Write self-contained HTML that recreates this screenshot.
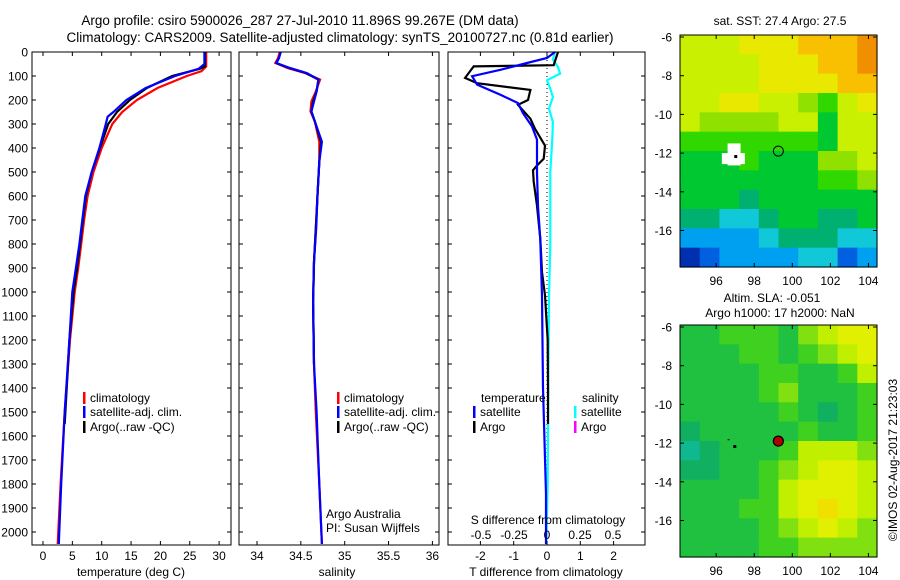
<!DOCTYPE html>
<html><head><meta charset="utf-8">
<style>
body{margin:0;background:#fff;}
svg{display:block;font-family:"Liberation Sans",sans-serif;}
text{fill:#000;}
</style></head>
<body>
<svg id="fig" width="900" height="580" viewBox="0 0 900 580" xmlns="http://www.w3.org/2000/svg">
<text x="300" y="25" font-size="13.5" text-anchor="middle">Argo profile: csiro 5900026_287 27-Jul-2010 11.896S 99.267E (DM data)</text>
<text x="340" y="42" font-size="13.5" text-anchor="middle">Climatology: CARS2009. Satellite-adjusted climatology: synTS_20100727.nc (0.81d earlier)</text>
<g id="p1"></g>
<g id="p2"></g>
<g id="p3"></g>
<g id="m1"></g>
<g id="m2"></g>
<text x="780" y="25" font-size="12" text-anchor="middle">sat. SST: 27.4 Argo: 27.5</text>
<text x="772" y="302" font-size="12" text-anchor="middle">Altim. SLA: -0.051</text>
<text x="780" y="317" font-size="12" text-anchor="middle">Argo h1000: 17 h2000: NaN</text>
<text x="0" y="0" font-size="12" text-anchor="middle" transform="translate(897,460) rotate(-90)">©IMOS 02-Aug-2017 21:23:03</text>
</svg>
<script>
// ---------- data ----------
const depthTicks = [0,100,200,300,400,500,600,700,800,900,1000,1100,1200,1300,1400,1500,1600,1700,1800,1900,2000];
const tempTicks = [0,5,10,15,20,25,30];
const salTicks = [34,34.5,35,35.5,36];
const tdiffTicks = [-2,-1,0,1,2];
const sdiffTicks = [-0.5,-0.25,0,0.25,0.5];
const sdiffTickLabels = ["-0.5","-0.25","0","0.25","0.5"];

const climDepth = [0,60,80,100,150,200,250,300,400,500,600,700,800,900,1000,1200,1500,1800,2050];
const climTemp  = [27.8,27.8,27.0,24.5,19.5,16.0,13.5,11.8,10.0,8.6,7.6,7.0,6.5,6.0,5.4,4.6,3.7,3.0,2.5];
const satDepth  = [0,50,70,100,150,200,250,270,300,400,500,600,700,800,900,1000,1200,1500,1800,2050];
const satTemp   = [27.5,27.5,26.5,22.5,17.5,14.2,12.0,11.0,10.7,9.6,8.3,7.2,6.7,6.2,5.6,5.0,4.5,3.7,3.1,2.7];
const argoDepth = [0,60,70,100,150,200,250,300,400,500,600,700,800,900,1000,1200,1550];
const argoTemp  = [27.6,27.6,26.7,22.0,17.7,14.8,12.6,11.1,9.7,8.3,7.3,6.8,6.3,5.8,5.2,4.5,3.7];

const salDepth  = [0,26,46,67,88,115,164,206,248,290,374,457,596,735,874,1040,1300,1500,1800,2050];
const climSal   = [34.26,34.24,34.21,34.35,34.55,34.72,34.67,34.62,34.61,34.66,34.71,34.71,34.69,34.67,34.65,34.64,34.65,34.67,34.71,34.74];
const satSal    = [34.27,34.25,34.22,34.38,34.57,34.70,34.68,34.65,34.62,34.66,34.74,34.71,34.69,34.675,34.65,34.64,34.65,34.68,34.71,34.74];
const argoSal   = [34.27,34.25,34.22,34.37,34.56,34.70,34.68,34.64,34.62,34.66,34.73,34.71,34.69,34.67,34.65,34.64,34.65];

const argoTdDepth = [0,55,60,108,130,158,200,220,278,320,390,445,473,493,540,640,778,917,1014,1200,1400,1550];
const argoTdiff   = [0.33,0.2,-2.2,-2.46,-2.1,-0.5,-0.57,-0.87,-0.5,-0.36,-0.06,-0.1,-0.3,-0.42,-0.4,-0.3,-0.2,-0.15,-0.06,0.02,0.03,0.03];
const satTdDepth  = [0,25,46,74,101,136,178,213,255,310,365,504,643,782,1017,1400,1840,2050];
const satTdiff    = [0.24,0,-0.6,-1.4,-2.25,-2.1,-1.4,-0.87,-0.72,-0.45,-0.3,-0.3,-0.27,-0.2,-0.15,-0.12,-0.03,-0.03];
const satSdDepth  = [0,32,60,90,118,153,188,236,292,361,500,800,1017,1400,1800,2050];
const satSdiff    = [0.06,0.045,0.08,0.1,0,0.025,0.045,0.015,0.045,0.04,0.025,0.025,0.015,0.01,0.005,-0.005];

const mapLonTicks = [96,98,100,102,104];
const mapLatTicks = [-6,-8,-10,-12,-14,-16];
const sstGrid = [
 [8,8,8,9,9,9,10,10,10,11],
 [8,8,8,8,9,9,9,10,10,11],
 [8,8,8,8,9,9,9,9,10,10],
 [8,8,9,9,8,8,7,6,8,9],
 [8,7,7,7,7,8,8,5,8,8],
 [6,6,6,6,6,6,6,5,8,8],
 [5,5,5,6,5,5,5,7,7,8],
 [5,5,5,5,5,5,5,6,6,7],
 [5,5,5,4,5,5,5,5,5,5],
 [4,4,3,3,4,5,5,4,4,5],
 [2,2,2,2,3,4,4,4,3,3],
 [0,1,2,2,2,2,3,3,1,2]];
const slaGrid = [
 [5,5,6,6,6,5,7,8,9,9],
 [5,5,5,6,6,5,6,7,8,9],
 [5,5,5,5,6,6,5,5,6,8],
 [5,5,5,5,6,7,5,5,5,6],
 [5,5,5,5,5,6,5,4,5,6],
 [4,5,5,5,5,5,6,5,5,6],
 [3,4,5,5,5,6,8,8,8,7],
 [4,4,5,5,6,7,8,9,9,8],
 [5,5,5,5,6,8,9,9,9,8],
 [5,5,5,6,6,8,9,10,9,8],
 [5,5,5,5,6,7,8,9,8,7],
 [5,5,5,5,6,6,7,7,7,7]];
const argoLon = 99.267, argoLat = -11.896;

// ---------- helpers ----------
const NS = "http://www.w3.org/2000/svg";
function mk(parent, tag, attrs, txt){
  const e = document.createElementNS(NS, tag);
  for (const k in attrs) e.setAttribute(k, attrs[k]);
  if (txt !== undefined) e.textContent = txt;
  parent.appendChild(e);
  return e;
}
const top0 = 52, bot0 = 545;
const FS = 12;
const yD = d => top0 + d * 0.24;
const xT = t => 43 + t * 5.87;
const xS = s => 257 + (s - 34) * 87.7;
const xTd = t => 547 + t * 33.3;
const xSd = s => 547 + s * 132;

function frame(g, x0, x1, name){
  const r = mk(g, 'rect', {x:x0, y:top0, width:x1-x0, height:bot0-top0, fill:'none', stroke:'#000', 'stroke-width':1});
  
  
}
function depthTickMarks(g, x0, x1, labels){
  depthTicks.forEach(d => {
    const y = yD(d);
    mk(g,'line',{x1:x0,y1:y,x2:x0+4,y2:y,stroke:'#000'});
    mk(g,'line',{x1:x1,y1:y,x2:x1-4,y2:y,stroke:'#000'});
    if (labels){
      const t = mk(g,'text',{x:x0-4,y:y+4.5,'font-size':FS,'text-anchor':'end'}, String(d));
      
      
    }
  });
}
function xTicks(g, vals, fx, labels, y){
  vals.forEach((v,i) => {
    const x = fx(v);
    mk(g,'line',{x1:x,y1:bot0,x2:x,y2:bot0-4,stroke:'#000'});
    mk(g,'line',{x1:x,y1:top0,x2:x,y2:top0+4,stroke:'#000'});
    const t = mk(g,'text',{x:x,y:y,'font-size':FS,'text-anchor':'middle'}, labels ? labels[i] : String(v));
    
    
  });
}
function line(g, xs, ds, fx, color, name){
  const pts = xs.map((v,i) => fx(v).toFixed(1) + ',' + yD(ds[i]).toFixed(1)).join(' ');
  const p = mk(g,'polyline',{points:pts, fill:'none', stroke:color, 'stroke-width':2.2, 'stroke-linejoin':'miter'});
  
  
}
function legend(g, x, y, color, label, name){
  mk(g,'rect',{x:x, y:y-10, width:2.5, height:12, fill:color});
  const t = mk(g,'text',{x:x+7, y:y, 'font-size':FS}, label);
  
  
}

// ---------- panel 1 ----------
const p1 = document.getElementById('p1');
line(p1, climTemp, climDepth, xT, '#f00', 'climatology-temp-line');
line(p1, argoTemp, argoDepth, xT, '#000', 'argo-temp-line');
line(p1, satTemp, satDepth, xT, '#00f', 'satellite-temp-line');
frame(p1, 32, 231, 'temperature-axes');
depthTickMarks(p1, 32, 231, true);
xTicks(p1, tempTicks, xT, null, 560);
mk(p1,'text',{x:131,y:576,'font-size':FS,'text-anchor':'middle'},'temperature (deg C)');
legend(p1, 83, 402, '#f00', 'climatology', 'legend-climatology');
legend(p1, 83, 416, '#00f', 'satellite-adj. clim.', 'legend-satellite');
legend(p1, 83, 431, '#000', 'Argo(..raw -QC)', 'legend-argo');

// ---------- panel 2 ----------
const p2 = document.getElementById('p2');
line(p2, climSal, salDepth, xS, '#f00', 'climatology-salinity-line');
line(p2, argoSal, salDepth.slice(0, argoSal.length), xS, '#000', 'argo-salinity-line');
line(p2, satSal, salDepth, xS, '#00f', 'satellite-salinity-line');
frame(p2, 239, 439, 'salinity-axes');
depthTickMarks(p2, 239, 439, false);
xTicks(p2, salTicks, xS, null, 560);
mk(p2,'text',{x:337,y:576,'font-size':FS,'text-anchor':'middle'},'salinity');
legend(p2, 337, 402, '#f00', 'climatology', 'legend-climatology');
legend(p2, 337, 416, '#00f', 'satellite-adj. clim.', 'legend-satellite');
legend(p2, 337, 431, '#000', 'Argo(..raw -QC)', 'legend-argo');
mk(p2,'text',{x:326,y:518,'font-size':FS},'Argo Australia');
mk(p2,'text',{x:326,y:532,'font-size':FS},'PI: Susan Wijffels');

// ---------- panel 3 ----------
const p3 = document.getElementById('p3');
mk(p3,'line',{x1:547,y1:yD(0),x2:547,y2:yD(1750),stroke:'#000','stroke-width':1,'stroke-dasharray':'1,3'});
line(p3, satSdiff, satSdDepth, xSd, '#0ff', 'satellite-sdiff-line');
line(p3, argoTdiff, argoTdDepth, xTd, '#000', 'argo-tdiff-line');
line(p3, satTdiff, satTdDepth, xTd, '#00f', 'satellite-tdiff-line');
frame(p3, 448, 645, 'difference-axes');
depthTickMarks(p3, 448, 645, false);
xTicks(p3, tdiffTicks, xTd, null, 560);
sdiffTicks.forEach((v,i) => {
  const t = mk(p3,'text',{x:xSd(v),y:539,'font-size':FS,'text-anchor':'middle'}, sdiffTickLabels[i]);
  
  
});
mk(p3,'text',{x:548,y:524,'font-size':FS,'text-anchor':'middle'},'S difference from climatology');
mk(p3,'text',{x:546,y:576,'font-size':FS,'text-anchor':'middle'},'T difference from climatology');
mk(p3,'text',{x:481,y:402,'font-size':FS},'temperature');
mk(p3,'text',{x:582,y:402,'font-size':FS},'salinity');
legend(p3, 473, 416, '#00f', 'satellite', 'legend-temp-satellite');
legend(p3, 473, 431, '#000', 'Argo', 'legend-temp-argo');
legend(p3, 574, 416, '#0ff', 'satellite', 'legend-sal-satellite');
legend(p3, 574, 431, '#f0f', 'Argo', 'legend-sal-argo');

// ---------- maps ----------
const palette = ['#0030b0','#0060e0','#00a0f0','#10c8d8','#00b070','#00c830','#30d800','#90e000','#c8f000','#e8e800','#f8c000','#f09000'];
const slaPalette = ['#0030b0','#0060e0','#00a0f0','#10b890','#10b060','#20c040','#40d020','#80e010','#c0f000','#e0f000','#f0e000','#f09000'];
const lonMin = 94.1, lonMax = 104.45;
function drawMap(g, grid, pal, top, name){
  const x0 = 680, x1 = 877, y1 = top + 232;
  const mx = lon => x0 + (lon - lonMin) / (lonMax - lonMin) * (x1 - x0);
  const my = lat => top + 2 + (-6 - lat) * 19.35;
  const rows = grid.length, cols = grid[0].length;
  const cw = (x1 - x0) / cols, ch = (y1 - top) / rows;
  grid.forEach((row, r) => row.forEach((v, c) => {
    const cell = mk(g,'rect',{x:(x0+c*cw).toFixed(2), y:(top+r*ch).toFixed(2), width:(cw+0.6).toFixed(2), height:(ch+0.6).toFixed(2), fill:pal[v]});
    
    
  }));
  const fr = mk(g,'rect',{x:x0,y:top,width:x1-x0,height:y1-top,fill:'none',stroke:'#000'});
  
  
  mapLatTicks.forEach(l => {
    const y = my(l);
    mk(g,'line',{x1:x0,y1:y,x2:x0+4,y2:y,stroke:'#000'});
    mk(g,'line',{x1:x1,y1:y,x2:x1-4,y2:y,stroke:'#000'});
    const t = mk(g,'text',{x:x0-8,y:y+4.5,'font-size':FS,'text-anchor':'end'}, String(l));
    
    
  });
  mapLonTicks.forEach(l => {
    const x = mx(l);
    mk(g,'line',{x1:x,y1:y1,x2:x,y2:y1-4,stroke:'#000'});
    mk(g,'line',{x1:x,y1:top,x2:x,y2:top+4,stroke:'#000'});
    const t = mk(g,'text',{x:x,y:y1+18,'font-size':FS,'text-anchor':'middle'}, String(l));
    
    
  });
  return {mx, my};
}
const m1 = document.getElementById('m1');
const a1 = drawMap(m1, sstGrid, palette, 35, 'sst-map');
mk(m1,'rect',{x:a1.mx(96.6),y:a1.my(-11.5),width:13,height:22,fill:'#fff'});
mk(m1,'rect',{x:a1.mx(96.3),y:a1.my(-12),width:23,height:11,fill:'#fff'});
mk(m1,'rect',{x:a1.mx(96.95),y:a1.my(-12.1),width:3,height:3,fill:'#000'});
const c1 = mk(m1,'circle',{cx:a1.mx(argoLon),cy:a1.my(argoLat),r:5,fill:'none',stroke:'#000','stroke-width':1});


const m2 = document.getElementById('m2');
const a2 = drawMap(m2, slaGrid, slaPalette, 325, 'sla-map');
mk(m2,'rect',{x:a2.mx(96.9),y:a2.my(-12.1),width:3,height:3,fill:'#000'});
mk(m2,'rect',{x:a2.mx(96.6),y:a2.my(-11.8),width:2,height:1,fill:'#000'});
const c2 = mk(m2,'circle',{cx:a2.mx(argoLon),cy:a2.my(argoLat),r:5,fill:'#b00000',stroke:'#000','stroke-width':1.2});


</script>
</body></html>
